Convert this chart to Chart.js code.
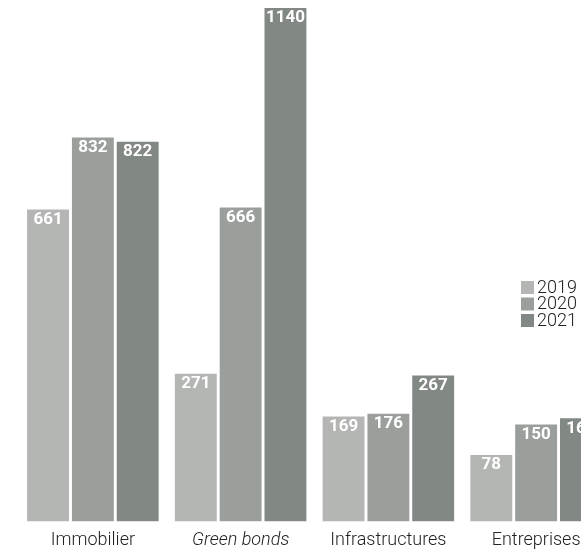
<!DOCTYPE html>
<html>
<head>
<meta charset="utf-8">
<script src="https://cdn.jsdelivr.net/npm/chart.js@4.4.1/dist/chart.umd.min.js"></script>
<style>
  html, body { margin: 0; padding: 0; background: #fff; overflow: hidden; }
  #wrap { position: relative; width: 612px; height: 559px; }
</style>
</head>
<body>
<div id="wrap"><canvas id="chartAssets"></canvas></div>
<script>
// ── Encours par catégorie ──
const categories = ['Immobilier', 'Green bonds', 'Infrastructures', 'Entreprises'];
const years = ['2019', '2020', '2021'];
const values2019 = [661, 271, 169, 78];
const values2020 = [832, 666, 176, 150];
const values2021 = [822, 1140, 267, 165];
const yearColors = ['#b4b6b3', '#9b9f9c', '#828883'];

const FONT = 'Roboto, "Noto Sans", sans-serif';
const AXIS_BASE = -80;

// White bold value printed just inside the top of each bar
const valueLabels = {
  id: 'valueLabels',
  afterDatasetsDraw(chart) {
    const ctx = chart.ctx;
    ctx.save();
    ctx.fillStyle = '#ffffff';
    ctx.font = `bold 17px ${FONT}`;
    ctx.textAlign = 'center';
    ctx.textBaseline = 'middle';
    chart.data.datasets.forEach((ds, i) => {
      chart.getDatasetMeta(i).data.forEach((bar, j) => {
        ctx.fillText(String(ds.data[j]), bar.x, bar.y + 10);
      });
    });
    ctx.restore();
  }
};

// Small stacked legend on the right side
const sideLegend = {
  id: 'sideLegend',
  afterDraw(chart) {
    const ctx = chart.ctx;
    ctx.save();
    ctx.font = `300 18px ${FONT}`;
    ctx.textBaseline = 'middle';
    ctx.textAlign = 'left';
    chart.data.datasets.forEach((ds, i) => {
      const cy = 287 + i * 16.5;
      ctx.fillStyle = ds.backgroundColor;
      ctx.fillRect(521, cy - 6, 13, 13);
      ctx.fillStyle = '#222';
      ctx.fillText(ds.label, 537, cy + 1);
    });
    ctx.restore();
  }
};

const seriesValues = [values2019, values2020, values2021];
const datasets = years.map((y, i) => ({
  label: y,
  data: seriesValues[i],
  backgroundColor: yearColors[i],
  borderWidth: 0,
  base: AXIS_BASE,
  categoryPercentage: 0.91,
  barPercentage: 0.935
}));

new Chart(document.getElementById('chartAssets'), {
  type: 'bar',
  data: { labels: categories, datasets },
  options: {
    responsive: true,
    maintainAspectRatio: false,
    animation: false,
    layout: { padding: { left: 19, right: 2, top: 8, bottom: 0 } },
    plugins: {
      legend: { display: false },
      tooltip: { enabled: false }
    },
    scales: {
      x: {
        grid: { display: false, drawTicks: false },
        border: { display: false },
        ticks: {
          color: '#222',
          padding: 8,
          maxRotation: 0,
          font: (c) => ({
            family: FONT,
            size: 18,
            weight: 300,
            style: c.index === 1 ? 'italic' : 'normal'
          })
        }
      },
      y: {
        display: false,
        min: AXIS_BASE,
        max: 1140
      }
    }
  },
  plugins: [valueLabels, sideLegend]
});
</script>
</body>
</html>
